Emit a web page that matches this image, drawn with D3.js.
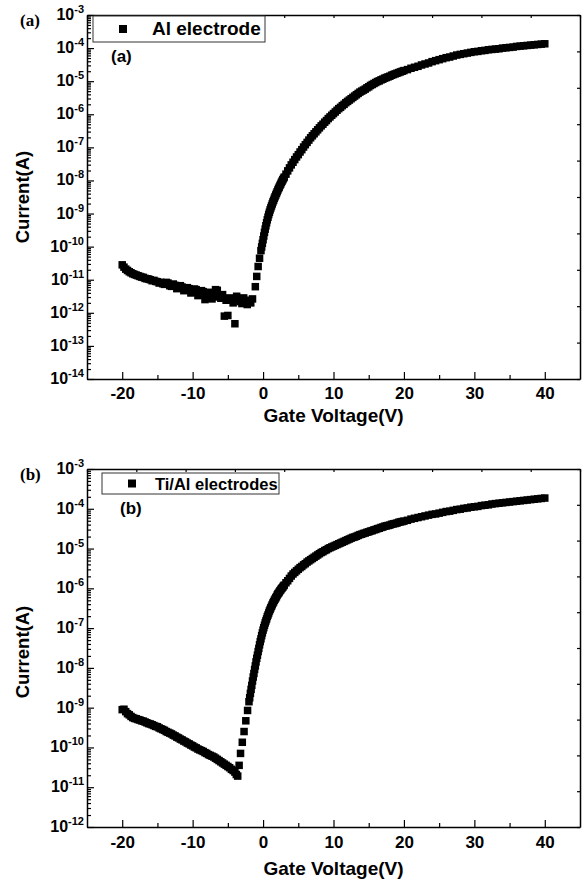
<!DOCTYPE html>
<html>
<head>
<meta charset="utf-8">
<script src="https://cdn.jsdelivr.net/npm/d3@7"></script>
<style>
    body { margin: 0; background: #fff; }
    svg text { font-family: Arial, "Liberation Sans", sans-serif; font-weight: bold; fill: #000; }
</style>
</head>
<body>
<div id="chart"></div>
<script>

// gate voltage (V) and log10 of drain current (A)
const voltageA = [
    -20, -19.75, -19.5, -19.25, -19, -18.75, -18.5, -18.25, -18, -17.75, -17.5, -17.25, -17, -16.75, -16.5, -16.25,
    -16, -15.75, -15.5, -15.25, -15, -14.75, -14.5, -14.25, -14, -13.75, -13.5, -13.25, -13, -12.75, -12.5, -12.25,
    -12, -11.75, -11.5, -11.25, -11, -10.75, -10.5, -10.25, -10, -9.75, -9.5, -9.25, -9, -8.75, -8.5, -8.25,
    -8, -7.75, -7.5, -7.25, -7, -6.75, -6.5, -6.25, -6, -5.75, -5.5, -5.25, -5, -4.75, -4.5, -4.25,
    -4, -3.75, -3.5, -3.25, -3, -2.75, -2.5, -2.25, -2,
    -1.75, -1.5, -1.1, -0.9, -0.7, -0.5, -0.3,
    -0.2, -0.1, 0, 0.1, 0.2, 0.3, 0.4, 0.5, 0.6, 0.7, 0.8, 0.9, 1, 1.1, 1.2, 1.3, 1.4, 1.5, 1.6, 1.7, 1.8, 1.9,
    2, 2.1, 2.2, 2.3, 2.4, 2.5, 2.6, 2.7, 2.8, 2.9, 3,
    3.25, 3.5, 3.75, 4, 4.25, 4.5, 4.75, 5, 5.25, 5.5, 5.75, 6, 6.25, 6.5, 6.75, 7, 7.25, 7.5, 7.75, 8,
    8.25, 8.5, 8.75, 9, 9.25, 9.5, 9.75, 10, 10.25, 10.5, 10.75, 11, 11.25, 11.5, 11.75, 12, 12.25, 12.5, 12.75, 13,
    13.25, 13.5, 13.75, 14, 14.25, 14.5, 14.75, 15, 15.25, 15.5, 15.75, 16, 16.25, 16.5, 16.75, 17, 17.25, 17.5, 17.75, 18,
    18.25, 18.5, 18.75, 19, 19.25, 19.5, 19.75, 20,
    20.5, 21, 21.5, 22, 22.5, 23, 23.5, 24, 24.5, 25, 25.5, 26, 26.5, 27, 27.5, 28, 28.5, 29, 29.5, 30,
    30.5, 31, 31.5, 32, 32.5, 33, 33.5, 34, 34.5, 35, 35.5, 36, 36.5, 37, 37.5, 38, 38.5, 39, 39.5, 40];
const logCurrentA = [
    -10.55, -10.62, -10.68, -10.72, -10.76, -10.79, -10.82, -10.84, -10.86, -10.88, -10.9, -10.92, -10.93, -10.96, -10.97, -10.98,
    -11.0, -11.03, -11.02, -11.05, -11.06, -11.1, -11.08, -11.12, -11.14, -11.08, -11.1, -11.18, -11.2, -11.13, -11.17, -11.27,
    -11.25, -11.18, -11.22, -11.33, -11.32, -11.24, -11.27, -11.4, -11.38, -11.28, -11.3, -11.48, -11.45, -11.33, -11.36, -11.6,
    -11.55, -11.38, -11.42, -11.58, -11.52, -11.3, -11.32, -11.5, -11.56, -11.45, -12.1, -11.62, -12.08, -11.55, -11.6, -11.7,
    -12.33, -11.5, -11.58, -11.66, -11.72, -11.55, -11.62, -11.75, -11.68,
    -11.7, -11.58, -11.21, -10.9, -10.6, -10.35, -10.12,
    -10.01, -9.9, -9.79, -9.68, -9.57, -9.47, -9.37, -9.28, -9.19, -9.11, -9.03, -8.96, -8.89, -8.83, -8.77, -8.71, -8.65, -8.6,
    -8.54, -8.49, -8.44, -8.39, -8.34, -8.29, -8.24, -8.2, -8.15, -8.11, -8.06, -8.02, -7.98, -7.94, -7.9,
    -7.81, -7.71, -7.62, -7.53, -7.45, -7.37, -7.29, -7.22, -7.14, -7.07, -6.99, -6.92, -6.85, -6.78, -6.71, -6.65, -6.59, -6.53,
    -6.47, -6.41, -6.35, -6.3, -6.24, -6.19, -6.13, -6.08, -6.03, -5.98, -5.93, -5.88, -5.83, -5.79, -5.74, -5.7, -5.65, -5.61,
    -5.57, -5.53, -5.49, -5.45, -5.41, -5.37, -5.33, -5.3, -5.27, -5.24, -5.2, -5.17, -5.13, -5.1, -5.07, -5.04, -5.01, -4.99,
    -4.96, -4.94, -4.91, -4.89, -4.87, -4.85, -4.82, -4.8, -4.78, -4.76, -4.74, -4.72, -4.7, -4.68,
    -4.65, -4.61, -4.58, -4.55, -4.51, -4.48, -4.45, -4.41, -4.38, -4.35, -4.32, -4.29, -4.27, -4.24, -4.21, -4.19, -4.17, -4.15,
    -4.13, -4.11, -4.1, -4.08, -4.07, -4.05, -4.04, -4.03, -4.02, -4.0, -3.99, -3.98, -3.97, -3.95, -3.94, -3.93, -3.92, -3.91,
    -3.9, -3.89, -3.88, -3.87];

const voltageB = [
    -20, -19.75, -19.5, -19.25, -19, -18.75, -18.5, -18.25, -18, -17.75, -17.5, -17.25, -17, -16.75, -16.5, -16.25,
    -16, -15.75, -15.5, -15.25, -15, -14.75, -14.5, -14.25, -14, -13.75, -13.5, -13.25, -13, -12.75, -12.5, -12.25,
    -12, -11.75, -11.5, -11.25, -11, -10.75, -10.5, -10.25, -10, -9.75, -9.5, -9.25, -9, -8.75, -8.5, -8.25,
    -8, -7.75, -7.5, -7.25, -7, -6.75, -6.5, -6.25, -6, -5.75, -5.5, -5.25, -5, -4.75, -4.5, -4.25, -4,
    -3.8, -3.6, -3.4, -3.2, -2.95, -2.7, -2.45, -2.2,
    -2, -1.9, -1.8, -1.7, -1.6, -1.5, -1.4, -1.3, -1.2, -1.1, -1, -0.9, -0.8, -0.7, -0.6, -0.5, -0.4, -0.3, -0.2, -0.1,
    0, 0.1, 0.2, 0.3, 0.4, 0.5, 0.6, 0.7, 0.8, 0.9, 1, 1.1, 1.2, 1.3, 1.4, 1.5, 1.6, 1.7, 1.8, 1.9,
    2, 2.1, 2.2, 2.3, 2.4, 2.5, 2.6, 2.7, 2.8, 2.9, 3,
    3.25, 3.5, 3.75, 4, 4.25, 4.5, 4.75, 5, 5.25, 5.5, 5.75, 6, 6.25, 6.5, 6.75, 7, 7.25, 7.5, 7.75, 8,
    8.25, 8.5, 8.75, 9, 9.25, 9.5, 9.75, 10, 10.25, 10.5, 10.75, 11, 11.25, 11.5, 11.75, 12, 12.25, 12.5, 12.75, 13,
    13.25, 13.5, 13.75, 14, 14.25, 14.5, 14.75, 15, 15.25, 15.5, 15.75, 16, 16.25, 16.5, 16.75, 17, 17.25, 17.5, 17.75, 18,
    18.25, 18.5, 18.75, 19, 19.25, 19.5, 19.75, 20,
    20.5, 21, 21.5, 22, 22.5, 23, 23.5, 24, 24.5, 25, 25.5, 26, 26.5, 27, 27.5, 28, 28.5, 29, 29.5, 30,
    30.5, 31, 31.5, 32, 32.5, 33, 33.5, 34, 34.5, 35, 35.5, 36, 36.5, 37, 37.5, 38, 38.5, 39, 39.5, 40];
const logCurrentB = [
    -9.05, -9.04, -9.1, -9.15, -9.18, -9.22, -9.25, -9.27, -9.28, -9.3, -9.31, -9.33, -9.34, -9.36, -9.38, -9.4,
    -9.41, -9.43, -9.45, -9.47, -9.48, -9.51, -9.53, -9.55, -9.57, -9.6, -9.62, -9.64, -9.66, -9.69, -9.71, -9.74,
    -9.76, -9.79, -9.81, -9.84, -9.86, -9.89, -9.91, -9.94, -9.96, -9.99, -10.01, -10.04, -10.06, -10.08, -10.1, -10.13,
    -10.15, -10.18, -10.2, -10.22, -10.24, -10.27, -10.3, -10.33, -10.36, -10.39, -10.42, -10.45, -10.48, -10.51, -10.55, -10.58, -10.62,
    -10.68, -10.72, -10.45, -10.15, -9.87, -9.6, -9.33, -9.07,
    -8.85, -8.75, -8.64, -8.54, -8.44, -8.33, -8.23, -8.14, -8.04, -7.95, -7.85, -7.76, -7.68, -7.59, -7.51, -7.42, -7.34, -7.27,
    -7.19, -7.12, -7.05, -6.99, -6.93, -6.87, -6.82, -6.77, -6.71, -6.67, -6.62, -6.57, -6.53, -6.49, -6.45, -6.41, -6.37, -6.34,
    -6.3, -6.27, -6.24, -6.21, -6.17, -6.14, -6.12, -6.09, -6.06, -6.04, -6.01, -5.99, -5.97, -5.94, -5.92,
    -5.86, -5.81, -5.75, -5.69, -5.64, -5.6, -5.56, -5.52, -5.48, -5.45, -5.41, -5.38, -5.34, -5.31, -5.28, -5.25, -5.22, -5.19,
    -5.16, -5.13, -5.1, -5.08, -5.05, -5.03, -5.0, -4.98, -4.96, -4.94, -4.92, -4.9, -4.88, -4.86, -4.84, -4.82, -4.8, -4.78,
    -4.76, -4.74, -4.72, -4.71, -4.69, -4.67, -4.65, -4.64, -4.62, -4.61, -4.59, -4.58, -4.56, -4.55, -4.53, -4.52, -4.5, -4.49,
    -4.47, -4.46, -4.44, -4.43, -4.42, -4.41, -4.39, -4.38, -4.37, -4.36, -4.34, -4.33, -4.32, -4.31,
    -4.29, -4.26, -4.24, -4.22, -4.2, -4.18, -4.16, -4.14, -4.13, -4.11, -4.09, -4.07, -4.06, -4.04, -4.02, -4.01, -3.99, -3.98,
    -3.96, -3.95, -3.94, -3.92, -3.91, -3.9, -3.88, -3.87, -3.86, -3.85, -3.84, -3.83, -3.82, -3.81, -3.8, -3.79, -3.78, -3.77,
    -3.76, -3.75, -3.74, -3.73];

// axis ticks
const xTickValues = [-20, -10, 0, 10, 20, 30, 40];
const xMinorValues = [-15, -5, 5, 15, 25, 35];
const exponentsA = [-14, -13, -12, -11, -10, -9, -8, -7, -6, -5, -4, -3];
const exponentsB = [-12, -11, -10, -9, -8, -7, -6, -5, -4, -3];

const width = 585, height = 888;

const svg = d3.select("#chart").append("svg")
    .attr("width", width)
    .attr("height", height);

function drawPanel(opt) {
    let g = svg.append("g");

    let x = d3.scaleLinear().domain([-25, 45]).range([opt.left, opt.right]);
    let y = d3.scaleLog()
        .domain([Math.pow(10, opt.exponents[0]), Math.pow(10, opt.exponents[opt.exponents.length - 1])])
        .range([opt.bottom, opt.top]);

    let points = opt.voltage.map((v, i) => ({v: v, c: Math.pow(10, opt.logCurrent[i])}));

    // square markers
    let s = 7.5;
    g.append("g").selectAll("rect")
        .data(points)
        .enter().append("rect")
        .attr("x", d => x(d.v) - s / 2)
        .attr("y", d => y(d.c) - s / 2)
        .attr("width", s)
        .attr("height", s)
        .attr("fill", "#000");

    // bottom axis, ticks pointing in
    let xAxis = g.append("g")
        .attr("transform", `translate(0,${opt.bottom})`)
        .call(d3.axisBottom(x).tickValues(xTickValues).tickFormat(d => "" + d)
            .tickSizeInner(-7).tickSizeOuter(0).tickPadding(opt.tickPad));
    xAxis.selectAll("text").style("font-size", "17px");

    g.append("g")
        .attr("transform", `translate(0,${opt.bottom})`)
        .call(d3.axisBottom(x).tickValues(xMinorValues).tickSize(-4).tickFormat(""))
        .select(".domain").remove();

    // top axis: ten equal divisions
    let topScale = d3.scaleLinear().domain([0, 10]).range([opt.left, opt.right]);
    g.append("g")
        .attr("transform", `translate(0,${opt.top})`)
        .call(d3.axisTop(topScale).ticks(10).tickSizeInner(-3).tickSizeOuter(0).tickFormat(""));

    // right axis: ten equal divisions
    let rightScale = d3.scaleLinear().domain([0, 10]).range([opt.bottom, opt.top]);
    g.append("g")
        .attr("transform", `translate(${opt.right},0)`)
        .call(d3.axisRight(rightScale).ticks(10).tickSizeInner(-3).tickSizeOuter(0).tickFormat(""));

    // left log axis
    let decades = opt.exponents.map(e => Math.pow(10, e));
    let minors = [];
    opt.exponents.slice(0, -1).forEach(e => {
        for (let m = 2; m <= 9; m++) minors.push(m * Math.pow(10, e));
    });

    g.append("g")
        .attr("transform", `translate(${opt.left},0)`)
        .call(d3.axisLeft(y).tickValues(decades).tickSizeInner(-7).tickSizeOuter(0).tickFormat(""));
    g.append("g")
        .attr("transform", `translate(${opt.left},0)`)
        .call(d3.axisLeft(y).tickValues(minors).tickSize(-4).tickFormat(""))
        .select(".domain").remove();

    g.selectAll(".domain").attr("stroke-width", 1.5);
    g.selectAll(".tick line").attr("stroke-width", 1.2);

    // decade labels with superscript
    let labels = g.append("g").selectAll("text")
        .data(opt.exponents)
        .enter().append("text")
        .attr("x", opt.left - 3)
        .attr("y", e => y(Math.pow(10, e)) + 5)
        .attr("text-anchor", "end");
    labels.append("tspan").style("font-size", "16px").text("10");
    labels.append("tspan").style("font-size", "11px").attr("dy", -7).text(e => "" + e);

    // axis titles
    g.append("text")
        .attr("x", (opt.left + opt.right) / 2)
        .attr("y", opt.bottom + opt.titlePad)
        .attr("text-anchor", "middle")
        .style("font-size", "19px")
        .text("Gate Voltage(V)");

    g.append("text")
        .attr("transform", `translate(29,${opt.labelY}) rotate(-90)`)
        .attr("text-anchor", "middle")
        .style("font-size", "18.5px")
        .text("Current(A)");

    // panel letter outside the frame
    g.append("text")
        .attr("x", 20)
        .attr("y", opt.top + 11)
        .style("font-family", "'Times New Roman', 'Liberation Serif', serif")
        .style("font-size", "17px")
        .text(opt.panel);

    // legend
    let lg = opt.legend;
    g.append("rect")
        .attr("x", lg.x)
        .attr("y", lg.y)
        .attr("width", lg.w)
        .attr("height", lg.h)
        .attr("fill", "#fff")
        .attr("stroke", "#333")
        .attr("stroke-width", 1);
    g.append("rect")
        .attr("x", lg.x + 26)
        .attr("y", lg.y + lg.h / 2 - 4)
        .attr("width", 8)
        .attr("height", 8)
        .attr("fill", "#000");
    g.append("text")
        .attr("x", lg.x + lg.textOffset)
        .attr("y", lg.y + lg.h / 2 + 6)
        .style("font-size", lg.size)
        .text(opt.series);

    g.append("text")
        .attr("x", lg.x + 18)
        .attr("y", lg.y + lg.h + 20)
        .style("font-size", "17px")
        .text(opt.panel);
}

drawPanel({
    voltage: voltageA, logCurrent: logCurrentA, exponents: exponentsA,
    left: 87, right: 580, top: 15, bottom: 379, labelY: 197, tickPad: 8, titlePad: 43,
    panel: "(a)", series: "Al electrode",
    legend: {x: 93, y: 16, w: 172, h: 26, size: "19px", textOffset: 59}
});

drawPanel({
    voltage: voltageB, logCurrent: logCurrentB, exponents: exponentsB,
    left: 87, right: 580, top: 469, bottom: 827, labelY: 652, tickPad: 9, titlePad: 48,
    panel: "(b)", series: "Ti/Al electrodes",
    legend: {x: 102, y: 473, w: 177, h: 21, size: "16.5px", textOffset: 53}
});

</script>
</body>
</html>
